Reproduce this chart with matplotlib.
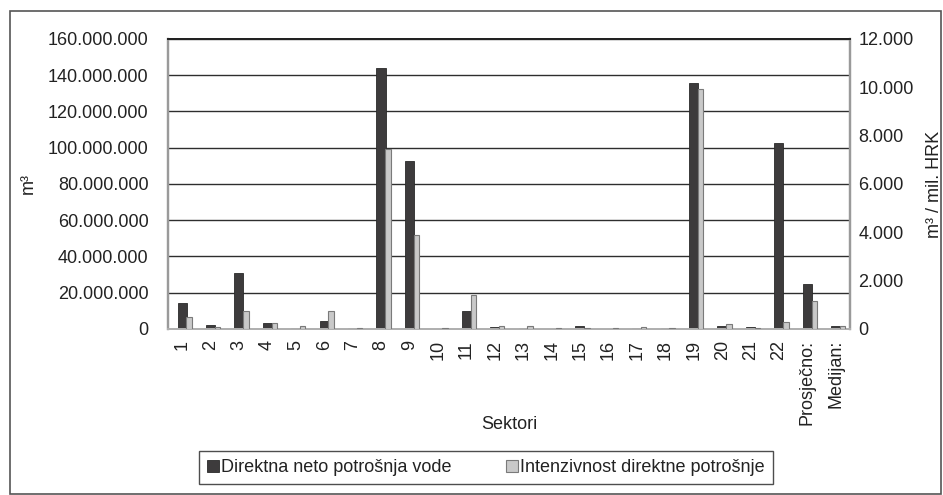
import matplotlib
matplotlib.use("Agg")
import matplotlib.pyplot as plt
import numpy as np
from matplotlib.patches import Patch, Rectangle
from matplotlib.ticker import FuncFormatter, MultipleLocator

plt.rcParams['font.family'] = ['Liberation Sans', 'DejaVu Sans']
plt.rcParams['font.size'] = 13

categories = [str(i) for i in range(1, 23)] + ['Prosječno:', 'Medijan:']

# Direktna neto potrošnja vode, m³
water_use = [14.6e6, 2.4e6, 31.0e6, 3.5e6, 0.5e6, 4.6e6, 0.3e6, 143.8e6,
             92.8e6, 0.2e6, 10.0e6, 1.1e6, 0.7e6, 0.2e6, 1.5e6, 0.2e6,
             0.6e6, 0.4e6, 135.6e6, 1.5e6, 1.1e6, 102.4e6, 25.0e6, 1.5e6]

# Intenzivnost direktne potrošnje, m³ / mil. HRK
intensity = [510, 85, 730, 262, 137, 730, 30, 7430, 3900, 20, 1410, 125,
             110, 20, 60, 20, 100, 20, 9950, 210, 20, 290, 1175, 110]

series_labels = ['Direktna neto potrošnja vode', 'Intenzivnost direktne potrošnje']

dark = '#3d3b3c'
light = '#c9c9c9'
text_color = '#222222'

fig = plt.figure(figsize=(9.43, 4.95), dpi=100)
ax = fig.add_axes([0.1782, 0.3354, 0.7232, 0.5859])
ax2 = ax.twinx()

x = np.arange(len(categories))
w_dark = 0.32
w_light = 0.19
ax.bar(x - 0.005, water_use, width=w_dark, color=dark,
       edgecolor='#2a2a2a', linewidth=0.6, zorder=3)
ax2.bar(x + 0.24, intensity, width=w_light,
        color=light, edgecolor='#7a7a7a', linewidth=0.8, zorder=3)

ax.set_xlim(-0.5, len(categories) - 0.5)
ax.set_ylim(0, 160e6)
ax2.set_ylim(0, 12000)
ax.yaxis.set_major_locator(MultipleLocator(20e6))
ax2.yaxis.set_major_locator(MultipleLocator(2000))


def dotted(v, pos):
    return f'{int(round(v)):,}'.replace(',', '.')


ax.yaxis.set_major_formatter(FuncFormatter(dotted))
ax2.yaxis.set_major_formatter(FuncFormatter(dotted))

ax.grid(axis='y', color='#2e2e2e', linewidth=1.0, zorder=0)
ax.set_axisbelow(True)

ax.set_xticks(x)
ax.set_xticklabels(categories, rotation=90, color=text_color)
ax.tick_params(axis='x', length=0, pad=8)
ax.tick_params(axis='y', length=0, pad=14, colors=text_color)
ax2.tick_params(axis='y', length=0, pad=6, colors=text_color)

for a in (ax, ax2):
    a.spines['left'].set_color('#9a9a9a')
    a.spines['left'].set_linewidth(1.6)
    a.spines['right'].set_color('#9a9a9a')
    a.spines['right'].set_linewidth(1.6)
    a.spines['bottom'].set_color('#b0b0b0')
    a.spines['bottom'].set_linewidth(1.4)
    a.spines['top'].set_color('#222222')
    a.spines['top'].set_linewidth(1.4)

ax.set_ylabel('m³', color=text_color, labelpad=8)
ax2.set_ylabel('m³ / mil. HRK', color=text_color, labelpad=9)
ax.set_xlabel('Sektori', color=text_color)
ax.xaxis.set_label_coords(0.5, -0.30)

handles = [Patch(facecolor=dark, edgecolor='#2a2a2a', linewidth=0.6),
           Patch(facecolor=light, edgecolor='#7a7a7a', linewidth=0.8)]
leg = fig.legend(handles, series_labels, loc='center',
                 bbox_to_anchor=(0.5154, 0.0556), ncol=2, frameon=True,
                 fancybox=False, edgecolor='#222222', handlelength=0.65,
                 handleheight=0.65, handletextpad=0.15, columnspacing=3.0,
                 borderpad=0.45, borderaxespad=0)
leg.get_frame().set_linewidth(1.0)
for t in leg.get_texts():
    t.set_color(text_color)

# outer chart frame
fig.patches.append(Rectangle((10 / 943, 1.5 / 495), 931 / 943, 482.5 / 495,
                             transform=fig.transFigure, fill=False,
                             edgecolor='#555555', linewidth=1.2))

fig.savefig('out.png', dpi=100)
